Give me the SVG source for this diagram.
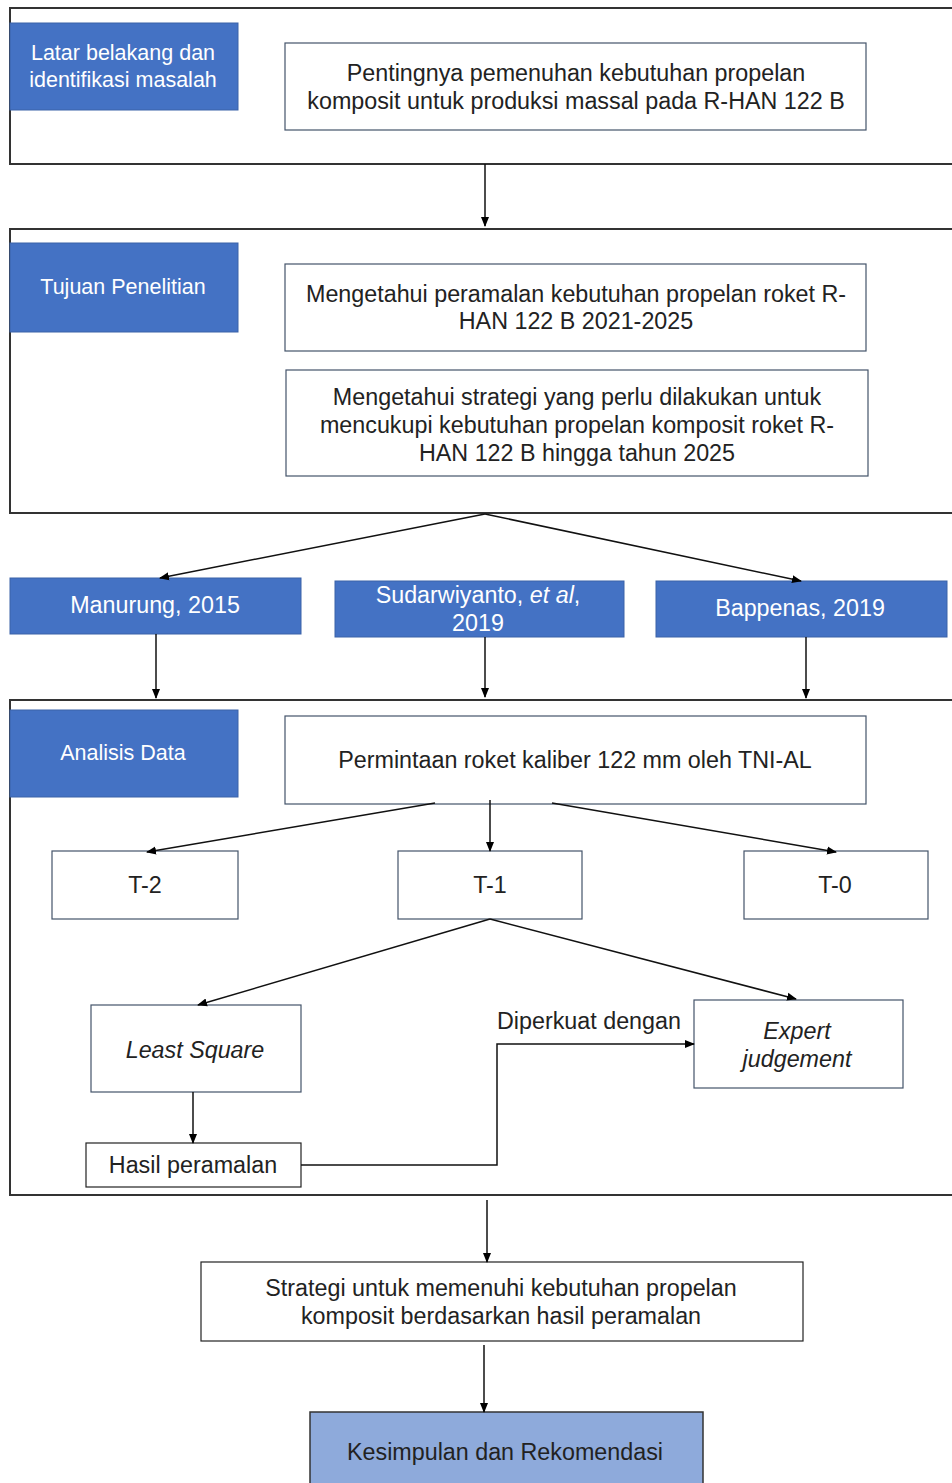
<svg xmlns="http://www.w3.org/2000/svg" width="952" height="1483" viewBox="0 0 952 1483">
<defs>
<marker id="ah" markerWidth="10" markerHeight="10" refX="9" refY="5" orient="auto" markerUnits="userSpaceOnUse">
<path d="M0,1 L10,5 L0,9 Z" fill="#000"/>
</marker>
<style>
.outer{fill:none;stroke:#333;stroke-width:2}
.box{fill:#fff;stroke:#44546a;stroke-width:1.2}
.blue{fill:#4472c4;stroke:#3a62a8;stroke-width:1}
.light{fill:#8eaadb;stroke:#333;stroke-width:1.5}
text{font-family:"Liberation Sans",Arial,sans-serif;font-size:23.3px;fill:#222;text-anchor:middle;dominant-baseline:central}
.w{fill:#fff}
.s{font-size:21.5px}
.i{font-style:italic}
.con{fill:none;stroke:#111;stroke-width:1.5;marker-end:url(#ah)}
</style>
</defs>
<rect width="952" height="1483" fill="#fff"/>
<g id="frame1"><rect class="outer" x="10" y="8" width="950" height="156"/></g>
<g id="frame2"><rect class="outer" x="10" y="229" width="950" height="284"/></g>
<g id="frame3"><rect class="outer" x="10" y="700" width="950" height="495"/></g>

<g id="latar"><rect class="blue" x="10" y="23" width="228" height="87"/>
<text class="w s" x="123" y="53">Latar belakang dan</text><text class="w s" x="123" y="80">identifikasi masalah</text></g>
<g id="penting"><rect class="box" x="285" y="43" width="581" height="87"/>
<text x="576" y="73">Pentingnya  pemenuhan  kebutuhan propelan</text><text x="576" y="101">komposit untuk  produksi massal pada R-HAN 122 B</text></g>

<g id="tujuan"><rect class="blue" x="10" y="243" width="228" height="89"/>
<text class="w s" x="123" y="287">Tujuan Penelitian</text></g>
<g id="tujuan1"><rect class="box" x="285" y="264" width="581" height="87"/>
<text x="576" y="294">Mengetahui  peramalan kebutuhan  propelan roket R-</text><text x="576" y="321">HAN 122 B 2021-2025</text></g>
<g id="tujuan2"><rect class="box" x="286" y="370" width="582" height="106"/>
<text x="577" y="397">Mengetahui  strategi yang perlu dilakukan untuk</text><text x="577" y="425">mencukupi  kebutuhan  propelan komposit roket R-</text><text x="577" y="453">HAN 122 B hingga tahun  2025</text></g>

<g id="manurung"><rect class="blue" x="10" y="578" width="291" height="56"/><text class="w" x="155" y="605">Manurung,  2015</text></g>
<g id="sudar"><rect class="blue" x="335" y="581" width="289" height="56"/><text class="w" x="478" y="595">Sudarwiyanto, <tspan class="i">et al</tspan>,</text><text class="w" x="478" y="623">2019</text></g>
<g id="bappenas"><rect class="blue" x="656" y="581" width="291" height="56"/><text class="w" x="800" y="608">Bappenas, 2019</text></g>

<g id="analisis"><rect class="blue" x="10" y="710" width="228" height="87"/><text class="w s" x="123" y="753">Analisis Data</text></g>
<g id="permintaan"><rect class="box" x="285" y="716" width="581" height="88"/><text x="575" y="760">Permintaan  roket kaliber 122 mm oleh TNI-AL</text></g>
<g id="t2"><rect class="box" x="52" y="851" width="186" height="68"/><text x="145" y="885">T-2</text></g>
<g id="t1"><rect class="box" x="398" y="851" width="184" height="68"/><text x="490" y="885">T-1</text></g>
<g id="t0"><rect class="box" x="744" y="851" width="184" height="68"/><text x="835" y="885">T-0</text></g>
<g id="least"><rect class="box" x="91" y="1005" width="210" height="87"/><text class="i" x="195" y="1050">Least Square</text></g>
<g id="expert"><rect class="box" x="694" y="1000" width="209" height="88"/><text class="i" x="797" y="1031">Expert</text><text class="i" x="797" y="1059">judgement</text></g>
<g id="hasil"><rect class="box" x="86" y="1143" width="215" height="44" style="stroke:#222"/><text x="193" y="1165">Hasil peramalan</text></g>
<g id="strategi"><rect class="box" x="201" y="1262" width="602" height="79" style="stroke:#222"/><text x="501" y="1288">Strategi untuk  memenuhi  kebutuhan  propelan</text><text x="501" y="1316">komposit berdasarkan hasil peramalan</text></g>
<g id="kesimpulan"><rect class="light" x="310" y="1412" width="393" height="80"/><text x="505" y="1452">Kesimpulan dan Rekomendasi</text></g>

<g id="connectors">
<line class="con" x1="485" y1="164" x2="485" y2="226"/>
<line class="con" x1="485" y1="514" x2="160" y2="578"/>
<line class="con" x1="485" y1="514" x2="801" y2="581"/>
<line class="con" x1="156" y1="634" x2="156" y2="698"/>
<line class="con" x1="485" y1="637" x2="485" y2="697"/>
<line class="con" x1="806" y1="637" x2="806" y2="698"/>
<line class="con" x1="435" y1="803" x2="147" y2="852"/>
<line class="con" x1="490" y1="800" x2="490" y2="851"/>
<line class="con" x1="552" y1="803" x2="836" y2="852"/>
<line class="con" x1="490" y1="919" x2="198" y2="1005"/>
<line class="con" x1="490" y1="919" x2="796" y2="999"/>
<line class="con" x1="193" y1="1092" x2="193" y2="1143"/>
<polyline class="con" points="301,1165 497,1165 497,1044 694,1044"/>
<line class="con" x1="487" y1="1200" x2="487" y2="1262"/>
<line class="con" x1="484" y1="1345" x2="484" y2="1412"/>
<text x="589" y="1021">Diperkuat dengan</text>
</g>
</svg>
